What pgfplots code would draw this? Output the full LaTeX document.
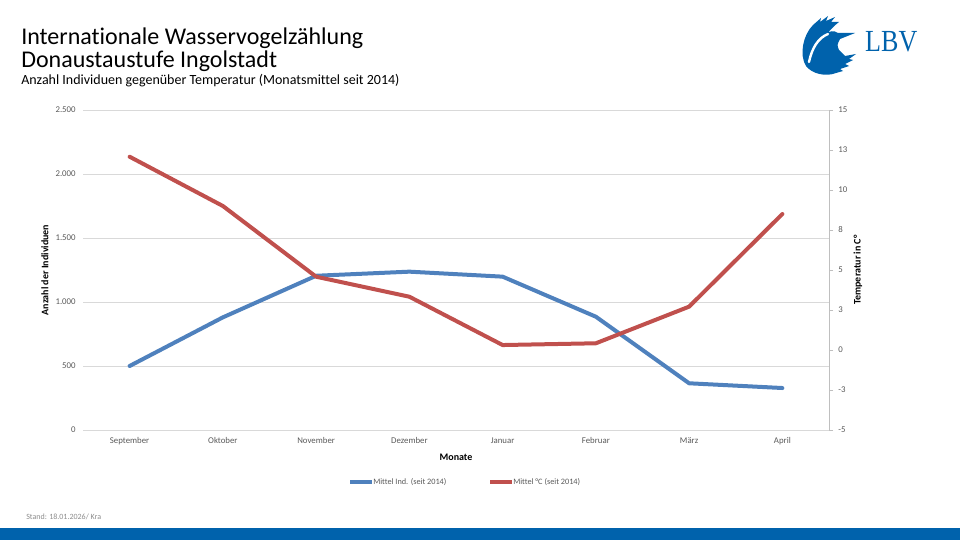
\documentclass[border=0pt]{standalone}
\usepackage{fontspec}
\setmainfont{Carlito}[Ligatures=NoCommon]
\usepackage{pgfplots}
\pgfplotsset{compat=1.18}

\definecolor{indblue}{HTML}{4F81BD}
\definecolor{tempred}{HTML}{C0504D}
\definecolor{gridgray}{HTML}{D9D9D9}
\definecolor{axisgray}{HTML}{BFBFBF}
\definecolor{tickgray}{HTML}{595959}
\definecolor{footgray}{HTML}{8C8C8C}
\definecolor{lbvblue}{HTML}{0062AC}

\begin{document}
\begin{tikzpicture}
\useasboundingbox (0,0) rectangle (720pt,405pt);

% Individuals (left axis)
\begin{axis}[
  at={(62.25pt,82.5pt)}, anchor=south west,
  scale only axis, width=559.5pt, height=240pt,
  xmin=-0.5, xmax=7.5, ymin=0, ymax=2500,
  xtick={0,...,7},
  xticklabels={September,Oktober,November,Dezember,Januar,Februar,März,April},
  ytick={0,500,1000,1500,2000,2500},
  yticklabels={0,500,1.000,1.500,2.000,2.500},
  ymajorgrids, grid style={gridgray, line width=0.75pt},
  axis line style={draw=none}, major tick length=0pt,
  /pgf/number format/assume math mode=true,
  typeset ticklabels with strut,
  tick label style={font=\fontsize{6.6pt}{7.5pt}\selectfont, text=tickgray},
  xticklabel style={yshift=-1.5pt},
  yticklabel style={xshift=-2pt},
  clip=false,
]
\addplot[indblue, line width=3pt, line cap=round, line join=round]
  coordinates {(0,500) (1,880) (2,1205) (3,1237) (4,1198) (5,885) (6,365) (7,328)};
\end{axis}

% Temperature (right axis)
\begin{axis}[
  at={(62.25pt,82.5pt)}, anchor=south west,
  scale only axis, width=559.5pt, height=240pt,
  xmin=-0.5, xmax=7.5, ymin=-5, ymax=15,
  axis x line=none, axis y line*=right,
  ytick={-5,-2.5,0,2.5,5,7.5,10,12.5,15},
  yticklabels={-5,-3,0,3,5,8,10,13,15},
  tick align=outside, major tick length=3pt,
  axis line style={-, axisgray, line width=0.75pt},
  tick style={axisgray, line width=0.75pt},
  /pgf/number format/assume math mode=true,
  tick label style={font=\fontsize{6.6pt}{7.5pt}\selectfont, text=tickgray},
  yticklabel style={xshift=0.5pt},
  clip=false,
]
\addplot[tempred, line width=3pt, line cap=round, line join=round]
  coordinates {(0,12.08) (1,9.0) (2,4.58) (3,3.33) (4,0.31) (5,0.42) (6,2.71) (7,8.5)};
\end{axis}

\begin{scope}[x=0.75pt, y=-0.75pt, shift={(0pt,405pt)}]
  % titles
  \node[anchor=base west, inner sep=0pt] at (21,44.5)
    {\fontsize{18pt}{20pt}\selectfont Internationale Wasservogelzählung};
  \node[anchor=base west, inner sep=0pt] at (21,68)
    {\fontsize{18pt}{20pt}\selectfont Donaustaustufe Ingolstadt};
  \node[anchor=base west, inner sep=0pt] at (21,85)
    {\fontsize{10.5pt}{12pt}\selectfont Anzahl Individuen gegenüber Temperatur (Monatsmittel seit 2014)};

  % axis titles
  \node[rotate=90, inner sep=0pt] at (45,270)
    {\fontsize{7.5pt}{8.5pt}\selectfont\bfseries Anzahl der Individuen};
  \node[rotate=90, inner sep=0pt] at (858,270)
    {\fontsize{7.5pt}{8.5pt}\selectfont\bfseries Temperatur in C°};
  \node[inner sep=0pt] at (456,457)
    {\fontsize{7.5pt}{8.5pt}\selectfont\bfseries Monate};

  % legend
  \draw[indblue, line width=3pt] (350,482) -- (372,482);
  \node[anchor=west, inner sep=0pt, text=tickgray] at (373,482)
    {\fontsize{6.2pt}{7pt}\selectfont Mittel Ind. (seit 2014)};
  \draw[tempred, line width=3pt] (490,482) -- (512,482);
  \node[anchor=west, inner sep=0pt, text=tickgray] at (513,482)
    {\fontsize{6.2pt}{7pt}\selectfont Mittel °C (seit 2014)};

  % footer
  \node[anchor=west, inner sep=0pt, text=footgray] at (26,517)
    {\fontsize{6pt}{7pt}\selectfont Stand: 18.01.2026/ Kra};
  \fill[lbvblue] (0,528) rectangle (960,540);

  % logo: kingfisher silhouette
  \fill[lbvblue]
    (839,22) -- (831,22) -- (835,17) -- (826,21) -- (828,16) -- (820,22)
    -- (821,18) -- (813,25)
    .. controls (803,35) and (799,55) .. (806,66)
    .. controls (812,74) and (826,77) .. (836,73)
    -- (843,71) -- (840,69) -- (849,66) -- (845,64) -- (853,60) -- (849,59)
    -- (856,54) -- (845,56) -- (839,50)
    .. controls (837,45) .. (840,39) -- (855,33) -- (838,33)
    .. controls (834,30) and (829,31) .. (827,34)
    .. controls (830,30) and (835,25) .. (839,22) -- cycle;
  \draw[white, line width=1.8pt, line cap=round]
    (809,62) .. controls (812,48) and (818,38) .. (828,34);
  \node[anchor=base west, inner sep=0pt, text=lbvblue, xscale=0.85] at (865,52)
    {\fontsize{23pt}{26pt}\selectfont\fontspec{Liberation Serif}LBV};
\end{scope}
\end{tikzpicture}
\end{document}
